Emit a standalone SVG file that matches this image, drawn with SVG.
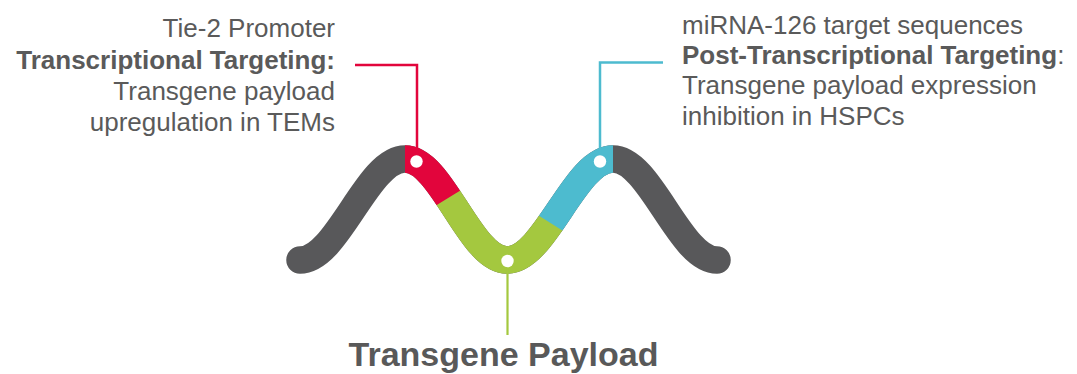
<svg xmlns="http://www.w3.org/2000/svg" width="1077" height="374" viewBox="0 0 1077 374">
  <style>
    .t { font-family: "Liberation Sans", Arial, sans-serif; font-size: 26px; fill: #5a5a5a; }
    .b { font-weight: bold; }
    .title { font-family: "Liberation Sans", Arial, sans-serif; font-size: 34px; font-weight: bold; fill: #595959; }
    .wave { fill: none; stroke-width: 27.5; }
    .conn { fill: none; stroke-linecap: butt; stroke-linejoin: miter; }
    .dot { fill: #ffffff; }
  </style>
  <defs>
    <path id="wavePath" d="M300,260 C337.8,260 367.2,159 405,159 C442.1,159 469.9,260 507,260 C545.5,260 574.5,159 613,159 C650.4,159 679.6,260 717,260"/>
    <clipPath id="clipRed"><polygon points="405,110 530,110 530,147.6 405,224.5"/></clipPath>
    <clipPath id="clipGreen"><polygon points="480,177.4 395,229.7 395,300 650,300 650,284.8"/></clipPath>
    <clipPath id="clipBlue"><polygon points="495,110 613,110 613,262.4 495,188"/></clipPath>
  </defs>

  <g id="wave">
    <use href="#wavePath" class="wave" stroke="#58585a" stroke-linecap="round"/>
    <use href="#wavePath" class="wave" stroke="#a4c83f" clip-path="url(#clipGreen)"/>
    <use href="#wavePath" class="wave" stroke="#e2053c" clip-path="url(#clipRed)"/>
    <use href="#wavePath" class="wave" stroke="#4dbbcf" clip-path="url(#clipBlue)"/>
  </g>

  <g id="connectors">
    <polyline class="conn" points="355,65 417,65 417,157" stroke="#e2053c" stroke-width="2.5"/>
    <polyline class="conn" points="663,62.5 600,62.5 600,157" stroke="#4dbbcf" stroke-width="2.5"/>
    <line class="conn" x1="507.5" y1="266" x2="507.5" y2="335" stroke="#a4c83f" stroke-width="2.2"/>
  </g>

  <g id="dots">
    <circle class="dot" cx="416.5" cy="161.5" r="6.2"/>
    <circle class="dot" cx="507.5" cy="261" r="6.2"/>
    <circle class="dot" cx="600" cy="161.5" r="6.2"/>
  </g>

  <g id="node-transcriptional">
    <text class="t" x="335" y="37" text-anchor="end">Tie-2 Promoter</text>
    <text class="t b" x="335" y="69" text-anchor="end">Transcriptional Targeting:</text>
    <text class="t" x="335" y="100" text-anchor="end">Transgene payload</text>
    <text class="t" x="335" y="130.5" text-anchor="end">upregulation in TEMs</text>
  </g>

  <g id="node-post-transcriptional">
    <text class="t" x="682" y="33.5">miRNA-126 target sequences</text>
    <text class="t" x="682" y="63.5"><tspan class="b">Post-Transcriptional Targeting</tspan>:</text>
    <text class="t" x="682" y="94">Transgene payload expression</text>
    <text class="t" x="682" y="124.5">inhibition in HSPCs</text>
  </g>

  <g id="node-payload">
    <text class="title" x="503.5" y="365.5" text-anchor="middle">Transgene Payload</text>
  </g>
</svg>
